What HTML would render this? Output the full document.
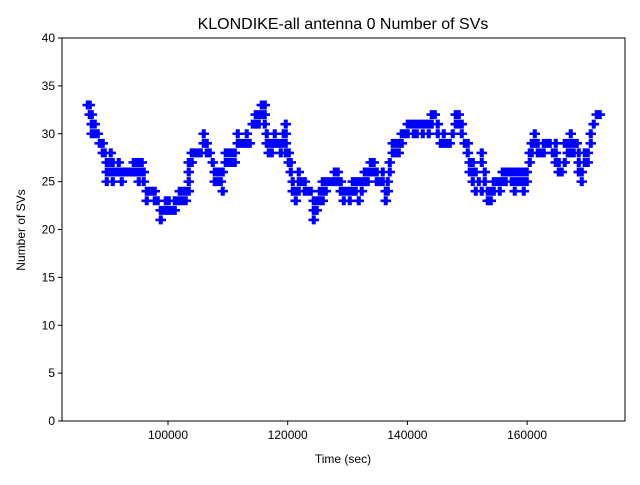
<!DOCTYPE html>
<html><head><meta charset="utf-8"><style>body{margin:0;background:#fff}svg text{font-family:"Liberation Sans","DejaVu Sans",sans-serif;fill:#000}</style></head>
<body>
<svg id="s" width="640" height="480" viewBox="0 0 640 480" xmlns="http://www.w3.org/2000/svg">
<rect width="640" height="480" fill="#fff"/>
<text x="343" y="29" font-size="16" text-anchor="middle">KLONDIKE-all antenna 0 Number of SVs</text>
<g id="pts" stroke="#0000ff" stroke-width="2.6" fill="none"></g>
<rect x="62" y="38" width="563" height="383" fill="none" stroke="#000" stroke-width="1"/>
<g id="ax" stroke="#000" stroke-width="1"></g>
<g id="lb" font-size="12"></g>
<text x="343" y="463" font-size="12" text-anchor="middle">Time (sec)</text>
<text transform="translate(25,230) rotate(-90)" font-size="12" text-anchor="middle">Number of SVs</text>
</svg>
<script>
var d=[[87,33],[89,33,32],[91,32,31,30],[94,31,30],[97,30],[99,29],[102,29,28],[104,28],[106,27,26,25],[108,27],[110,26,28],[112,27,26,25],[115,26],[118,26,27],[121,26,25],[124,26],[127,26],[130,26],[133,27,26],[136,26,27],[138,27,25,26],[141,27,26],[143,26,25],[146,24,23],[148,24],[151,24],[154,24,23],[157,23],[160,22,21],[163,22],[165,22,23],[168,22,23],[171,22],[174,23,22],[177,23],[179,24,23],[182,24,23],[185,24,23],[188,27,25,24,26],[191,28,27],[194,28],[197,28],[200,28],[203,30,29],[206,29,28],[209,28],[212,27],[214,26,25],[217,26,25],[220,26,25],[222,24,26],[225,27,28],[228,27,28],[231,27,28],[234,28,27],[237,30,29],[240,29],[243,29],[246,29,30],[249,29],[252,31],[255,31,32],[258,32,31],[261,33,32],[264,33,32,31],[266,30,29],[268,28,29],[271,29,28],[274,30,29],[277,29],[280,29,28],[283,30,29],[285,31,30,29,28],[288,28,27],[290,26,27],[292,25,24],[295,23,24],[298,24,26,25],[301,25],[304,24,25],[307,24],[310,24],[313,23,22,21],[316,23,22],[319,23,24],[322,24,25,23],[325,24,25],[328,25],[331,25],[334,25,26],[337,25,26],[340,24,25],[343,24,23],[346,24],[349,24,23],[352,24,25],[355,24,25],[358,25,23],[361,24,25],[364,25,26],[367,25,26],[370,26,27],[373,27,26],[376,26,25],[379,25],[382,25,26],[385,24,23],[387,25,24],[389,26,27],[392,28,29],[395,29,28],[398,29,28],[401,29,30],[404,30],[407,30,31],[410,31],[413,31,30],[416,30,31],[419,31],[422,31,30],[425,31],[428,30,31],[431,32,31],[434,32],[437,31,30],[440,29],[443,30,29],[446,29],[449,29],[452,30],[455,31,32],[458,32,31],[461,31,30],[464,29],[467,28,29],[469,27,26],[472,26,25,27],[475,26,24],[478,25],[481,27,28,24],[484,26,25],[487,24,23],[490,23,24],[493,24,25],[496,25],[499,25,24],[502,25,26],[505,26,25],[508,26],[511,26,25],[514,26,25,24],[517,26,25],[520,25,26],[523,26,24,25],[526,26,25],[529,27,28],[531,29,28],[534,30,29],[537,28,29],[540,28],[543,28,29],[546,29],[549,29],[552,28],[555,28,29,27],[558,26,27],[561,26],[564,27,29],[567,28,29],[570,30,29,28],[573,29,28],[576,29],[578,26,27,28],[581,25,26],[584,28,27],[587,28,27],[590,29,30],[593,31],[596,32],[599,32]];
var p="";
d.forEach(function(r){for(var i=1;i<r.length;i++){var y=421-r[i]*9.575;[r[0],r[0]+1.5].forEach(function(x){p+="M"+(x-4.5)+" "+y+"h9M"+x+" "+(y-4.5)+"v9";});}});
document.getElementById("pts").innerHTML='<path d="'+p+'"/>';
var a="",l="";
for(var v=0;v<=40;v+=5){var y=421-v*9.575;a+='<line x1="58" x2="62" y1="'+y+'" y2="'+y+'"/>';l+='<text x="55" y="'+(y+4)+'" text-anchor="end">'+v+'</text>';}
for(var t=100000;t<=160000;t+=20000){var x=168+(t-100000)*0.005985;a+='<line x1="'+x+'" x2="'+x+'" y1="421" y2="425"/>';l+='<text x="'+x+'" y="439" text-anchor="middle">'+t+'</text>';}
document.getElementById("ax").innerHTML=a;document.getElementById("lb").innerHTML=l;
</script>
</body></html>
